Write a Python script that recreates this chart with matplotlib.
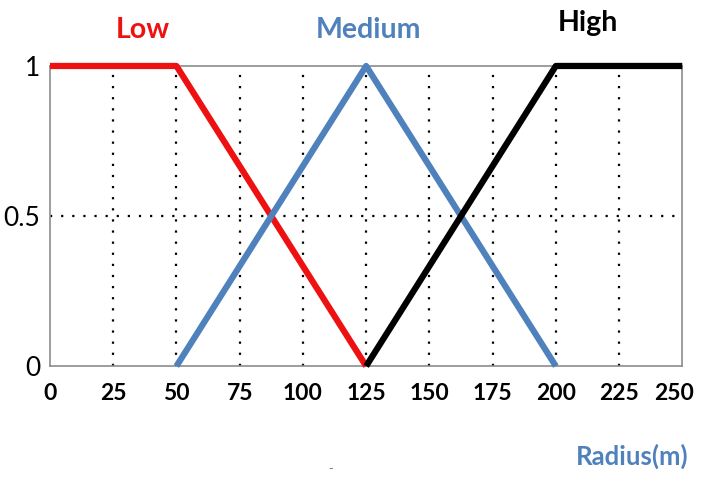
import matplotlib
matplotlib.use("Agg")
import matplotlib.pyplot as plt
import matplotlib.transforms as mtransforms

# membership functions for radius
low_x = [0, 50, 125]
low_y = [1, 1, 0]
med_x = [50, 125, 200]
med_y = [0, 1, 0]
high_x = [125, 200, 250]
high_y = [0, 1, 1]

x_ticks = [0, 25, 50, 75, 100, 125, 150, 175, 200, 225, 250]
y_ticks = [0, 0.5, 1]
y_labels = ["0", "0.5", "1"]

RED = "#ee1111"
BLUE = "#4f81bd"

plt.rcParams["font.family"] = ["Lato", "DejaVu Sans"]

fig = plt.figure(figsize=(7.01, 4.78), dpi=100)
ax = fig.add_axes([0.0713, 0.234, 0.902, 0.628])

# dotted grid
for xv in x_ticks[1:-1]:
    ax.axvline(xv, color="black", linestyle=(0, (1, 4)), linewidth=1.6, zorder=1)
ax.axhline(0.5, color="black", linestyle=(0, (1, 4)), linewidth=1.6, zorder=1)

ax.plot(low_x, low_y, color=RED, linewidth=4.5, clip_on=False, zorder=3,
        solid_capstyle="butt")
ax.plot(med_x, med_y, color=BLUE, linewidth=4.5, clip_on=False, zorder=3,
        solid_capstyle="butt")
ax.plot(high_x, high_y, color="black", linewidth=4.5, clip_on=False, zorder=4,
        solid_capstyle="butt")

ax.set_xlim(0, 250)
ax.set_ylim(0, 1)
ax.set_xticks(x_ticks)
ax.set_xticklabels([str(v) for v in x_ticks], fontsize=16.5, fontweight="bold")
ax.set_yticks(y_ticks)
ax.set_yticklabels(y_labels, fontsize=19)
ax.tick_params(axis="x", length=0, pad=12)
ax.tick_params(axis="y", length=0, pad=7)

# last label sits a bit left of its tick, like the original
last = ax.get_xticklabels()[-1]
last.set_transform(last.get_transform() +
                   mtransforms.ScaledTranslation(-8 / 100, 0, fig.dpi_scale_trans))

for s in ax.spines.values():
    s.set_color("#8c8c8c")
    s.set_linewidth(1.2)

fig.text(143 / 701, 1 - 30 / 478, "Low", color=RED, fontsize=20.5,
         fontweight="bold", ha="center", va="center")
fig.text(368 / 701, 1 - 30 / 478, "Medium", color=BLUE, fontsize=20.5,
         fontweight="bold", ha="center", va="center")
fig.text(588 / 701, 1 - 23 / 478, "High", color="black", fontsize=20.5,
         fontweight="bold", ha="center", va="center")
fig.text(632 / 701, 1 - 456 / 478, "Radius(m)", color=BLUE, fontsize=18.5,
         fontweight="bold", ha="center", va="center")
fig.text(331 / 701, 1 - 469 / 478, "-", color="#777777", fontsize=9,
         ha="center", va="center")

fig.savefig("out.png", dpi=100)
